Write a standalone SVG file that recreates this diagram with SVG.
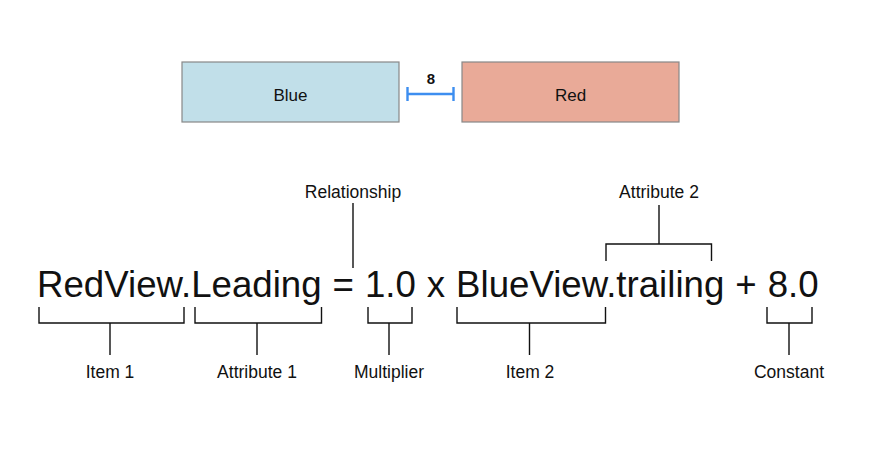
<svg xmlns="http://www.w3.org/2000/svg" width="894" height="456" viewBox="0 0 894 456">
<style>
.box{stroke:#888;stroke-width:1.2}
.lbl{font-family:"Liberation Sans",Arial,sans-serif;font-size:17.5px;fill:#111;text-anchor:middle}
.boxt{font-family:"Liberation Sans",Arial,sans-serif;font-size:17px;fill:#111;text-anchor:middle}
.eq{font-family:"Liberation Sans",Arial,sans-serif;font-size:36.65px;word-spacing:0.8px;fill:#111}
.br{fill:none;stroke:#111;stroke-width:1.4}
.meas{fill:none;stroke:#3d8ef0;stroke-width:2.4}
</style>
<rect width="894" height="456" fill="#fff"/>
<g id="blue">
<rect class="box" x="182" y="62" width="217" height="60" fill="#c1dfe9"/>
<text class="boxt" x="290.5" y="101">Blue</text>
</g>
<g id="red">
<rect class="box" x="462" y="62" width="217" height="60" fill="#e9aa98"/>
<text class="boxt" x="570.5" y="101">Red</text>
</g>
<g id="spacing">
<path class="meas" d="M407.5 87V101M407.5 94H453.5M453.5 87V101"/>
<text class="boxt" x="431" y="83.5" style="font-size:15px;font-weight:bold">8</text>
</g>
<g id="equation">
<text class="eq" x="37" y="297">RedView.Leading = 1.0 x BlueView.trailing + 8.0</text>
</g>
<g id="connectors">
<path class="br" d="M39 307V323H184V307M110 323V355"/>
<path class="br" d="M195 307V323H321.5V307M257 323V355"/>
<path class="br" d="M368 307V323H412V307M389 323V355"/>
<path class="br" d="M457 307V323H605.5V307M529.5 323V355"/>
<path class="br" d="M767 307V323H812V307M789 323V355"/>
<path class="br" d="M353 203V268"/>
<path class="br" d="M606 261V244H711.5V261M659 244V205"/>
</g>
<g id="labels">
<text class="lbl" x="353" y="197.5">Relationship</text>
<text class="lbl" x="659" y="197.5">Attribute 2</text>
<text class="lbl" x="110" y="377.5">Item 1</text>
<text class="lbl" x="257" y="377.5">Attribute 1</text>
<text class="lbl" x="389" y="377.5">Multiplier</text>
<text class="lbl" x="530" y="377.5">Item 2</text>
<text class="lbl" x="789" y="377.5">Constant</text>
</g>
</svg>
